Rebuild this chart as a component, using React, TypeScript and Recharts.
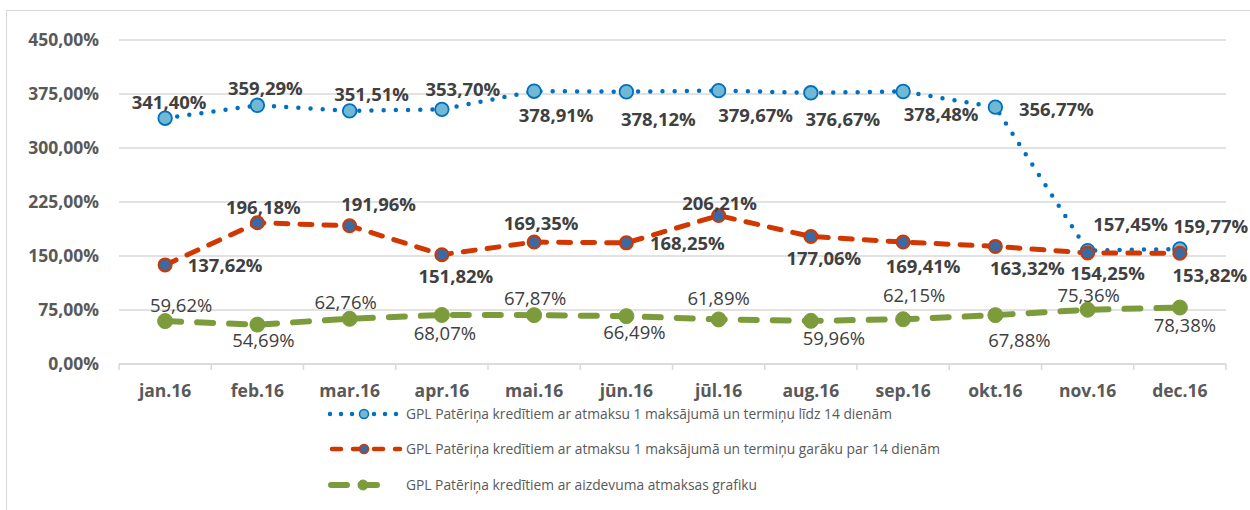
import React from 'react';
import { LineChart, Line, XAxis, YAxis, CartesianGrid, Legend } from 'recharts';

// ---------- data ----------
const months = ['jan.16', 'feb.16', 'mar.16', 'apr.16', 'mai.16', 'jūn.16', 'jūl.16', 'aug.16', 'sep.16', 'okt.16', 'nov.16', 'dec.16'];
const shortTerm = [341.4, 359.29, 351.51, 353.7, 378.91, 378.12, 379.67, 376.67, 378.48, 356.77, 157.45, 159.77];
const longTerm = [137.62, 196.18, 191.96, 151.82, 169.35, 168.25, 206.21, 177.06, 169.41, 163.32, 154.25, 153.82];
const instalment = [59.62, 54.69, 62.76, 68.07, 67.87, 66.49, 61.89, 59.96, 62.15, 67.88, 75.36, 78.38];
const yTicks = [0, 75, 150, 225, 300, 375, 450];
const seriesNames = [
  'GPL Patēriņa kredītiem ar atmaksu 1 maksājumā un termiņu līdz 14 dienām',
  'GPL Patēriņa kredītiem ar atmaksu 1 maksājumā un termiņu garāku par 14 dienām',
  'GPL Patēriņa kredītiem ar aizdevuma atmaksas grafiku',
];

const tableData = months.map((m, i) => ({ month: m, s1: shortTerm[i], s2: longTerm[i], s3: instalment[i] }));

// ---------- layout / style ----------
const blueOffsets: [number, number][] = [[4, -16], [8, -17], [22, -17], [21, -20], [22, 24], [32, 28], [37, 25], [32, 27], [38, 23], [61, 2], [43, -26], [31, -23]];
const redOffsets: [number, number][] = [[60, 0], [6, -15], [29, -21], [14, 22], [7, -19], [61, 1], [1, -12], [13, 22], [20, 24], [32, 22], [20, 20], [30, 22]];
const greenOffsets: [number, number][] = [[16, -16], [6, 16], [-4, -16], [3, 18], [1, -17], [8, 16], [0, -21], [23, 18], [11, -24], [24, 25], [1, -14], [5, 18]];

const BLUE = '#0070C0';
const BLUE_FILL = '#70B8D3';
const RED = '#D03800';
const RED_FILL = '#3E68A0';
const GREEN = '#7C9C3C';
const GRID = '#D9D9D9';
const AXIS_TEXT = '#595959';
const LABEL_TEXT = '#404040';
const FONT = '"Open Sans", "Noto Sans", sans-serif';

const fmt = (v: number) => v.toFixed(2).replace('.', ',') + '%';

const makeLabel = (offsets: [number, number][], weight: number) => (props: any) => {
  const { x, y, value, index } = props;
  const [dx, dy] = offsets[index] || [0, -15];
  return (
    <text
      key={`l-${index}`}
      x={x + dx}
      y={y + dy + 6.6}
      textAnchor="middle"
      fontFamily={FONT}
      fontSize={18.5}
      fontWeight={weight}
      fill={LABEL_TEXT}
    >
      {fmt(value)}
    </text>
  );
};

const makeDot = (r: number, fill: string, stroke: string, sw: number) => (p: any) => (
  <circle key={`d-${p.index}`} cx={p.cx} cy={p.cy} r={r} fill={fill} stroke={stroke} strokeWidth={sw} />
);

const BAND = 1107 / months.length;

const XTick = (props: any) => {
  const { x, y, payload, index } = props;
  return (
    <g>
      <line x1={x - BAND / 2} x2={x - BAND / 2} y1={y} y2={y + 6} stroke={GRID} strokeWidth={1.5} />
      {index === months.length - 1 && (
        <line x1={x + BAND / 2} x2={x + BAND / 2} y1={y} y2={y + 6} stroke={GRID} strokeWidth={1.5} />
      )}
      <text x={x} y={y + 33} textAnchor="middle" fontFamily={FONT} fontSize={17.5} fontWeight={700} fill={AXIS_TEXT}>
        {payload.value}
      </text>
    </g>
  );
};

const legendRows = [
  { y: 19, len: 486 },
  { y: 54, len: 534 },
  { y: 90, len: 351 },
];

const LegendContent = () => (
  <svg width={640} height={110} style={{ display: 'block' }}>
    {/* row 1 */}
    <line x1={10} x2={78} y1={legendRows[0].y} y2={legendRows[0].y} stroke={BLUE} strokeWidth={4.5} strokeDasharray="0 11" strokeLinecap="round" />
    <circle cx={44} cy={legendRows[0].y} r={4.5} fill={BLUE_FILL} stroke={BLUE} strokeWidth={1.5} />
    <text x={86} y={legendRows[0].y + 5} fontFamily={FONT} fontSize={14} fill={AXIS_TEXT} textLength={legendRows[0].len} lengthAdjust="spacingAndGlyphs">
      {seriesNames[0]}
    </text>
    {/* row 2 */}
    <line x1={12} x2={80} y1={legendRows[1].y} y2={legendRows[1].y} stroke={RED} strokeWidth={4.5} strokeDasharray="9 12" strokeLinecap="round" />
    <circle cx={44} cy={legendRows[1].y} r={4.5} fill={RED_FILL} stroke={RED} strokeWidth={1.5} />
    <text x={86} y={legendRows[1].y + 5} fontFamily={FONT} fontSize={14} fill={AXIS_TEXT} textLength={legendRows[1].len} lengthAdjust="spacingAndGlyphs">
      {seriesNames[1]}
    </text>
    {/* row 3 */}
    <line x1={11} x2={70} y1={legendRows[2].y} y2={legendRows[2].y} stroke={GREEN} strokeWidth={6} strokeDasharray="16 14" strokeLinecap="round" />
    <circle cx={43} cy={legendRows[2].y} r={5} fill={GREEN} stroke={GREEN} strokeWidth={1} />
    <text x={86} y={legendRows[2].y + 5} fontFamily={FONT} fontSize={14} fill={AXIS_TEXT} textLength={legendRows[2].len} lengthAdjust="spacingAndGlyphs">
      {seriesNames[2]}
    </text>
  </svg>
);

export default function App() {
  return (
    <div style={{ position: 'absolute', left: 0, top: 0, width: 1250, height: 510, overflow: 'hidden', background: '#fff' }}>
      <div
        style={{
          position: 'absolute',
          left: 6,
          top: 10,
          width: 1400,
          height: 700,
          borderLeft: '1.5px solid #D9D9D9',
          borderTop: '1.5px solid #D9D9D9',
          boxSizing: 'border-box',
        }}
      />
      <div style={{ position: 'absolute', left: 0, top: 0 }}>
        <LineChart width={1250} height={510} data={tableData} margin={{ top: 40, right: 24, left: 0, bottom: 106 }}>
          <CartesianGrid vertical={false} stroke={GRID} strokeWidth={1.5} />
          <XAxis
            dataKey="month"
            height={40}
            padding={{ left: BAND / 2, right: BAND / 2 }}
            axisLine={{ stroke: GRID, strokeWidth: 1.5 }}
            tickLine={false}
            tickSize={0}
            tickMargin={0}
            interval={0}
            tick={<XTick />}
          />
          <YAxis
            width={119}
            domain={[0, 450]}
            ticks={yTicks}
            axisLine={false}
            tickLine={false}
            tickSize={0}
            tickMargin={20}
            tickFormatter={(v: number) => fmt(v)}
            tick={{ fontFamily: FONT, fontSize: 17.5, fontWeight: 700, fill: AXIS_TEXT }}
          />
          <Line
            dataKey="s1"
            name={seriesNames[0]}
            stroke={BLUE}
            strokeWidth={4.5}
            strokeDasharray="0 12.2"
            strokeLinecap="round"
            isAnimationActive={false}
            dot={makeDot(6.8, BLUE_FILL, BLUE, 1.8)}
            label={makeLabel(blueOffsets, 700)}
          />
          <Line
            dataKey="s2"
            name={seriesNames[1]}
            stroke={RED}
            strokeWidth={5}
            strokeDasharray="12 12"
            strokeLinecap="round"
            isAnimationActive={false}
            dot={makeDot(6.5, RED_FILL, RED, 2)}
            label={makeLabel(redOffsets, 700)}
          />
          <Line
            dataKey="s3"
            name={seriesNames[2]}
            stroke={GREEN}
            strokeWidth={6}
            strokeDasharray="16 16"
            strokeLinecap="round"
            isAnimationActive={false}
            dot={makeDot(7.5, GREEN, GREEN, 1)}
            label={makeLabel(greenOffsets, 400)}
          />
          <Legend
            layout="vertical"
            verticalAlign="middle"
            align="center"
            wrapperStyle={{ left: 320, top: 395 }}
            content={() => <LegendContent />}
          />
        </LineChart>
      </div>
    </div>
  );
}
